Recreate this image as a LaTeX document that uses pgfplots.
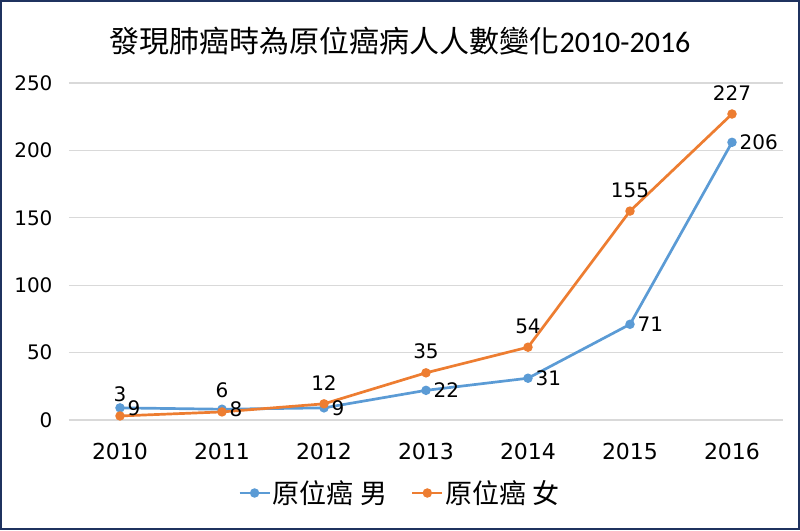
\documentclass[border=0pt]{standalone}
\usepackage{pgfplots}
\pgfplotsset{compat=1.18}
\usepackage{fontspec}
\setmainfont{DejaVu Sans}
\newfontfamily\cjk{Noto Sans CJK TC}
\newfontfamily\calfont{Carlito}
\definecolor{sblue}{HTML}{5B9BD5}
\definecolor{sorange}{HTML}{ED7D31}
\definecolor{frame}{RGB}{31,50,95}
\definecolor{gridc}{HTML}{D9D9D9}
\pgfplotstableread{
x male female
0 9 3
1 8 6
2 9 12
3 22 35
4 31 54
5 71 155
6 206 227
}\datatable
\begin{document}
\begin{tikzpicture}
\begin{axis}[
  name=ax,
  scale only axis, width=714pt, height=337pt,
  xmin=-0.5, xmax=6.5, ymin=0, ymax=250,
  xtick={0,...,6}, xticklabels={2010,2011,2012,2013,2014,2015,2016},
  ytick={0,50,...,250},
  ymajorgrids, grid style={gridc, line width=1.2pt},
  axis line style={draw=none}, major tick style={draw=none},
  /pgf/number format/assume math mode=true,
  xticklabel style={font=\fontsize{22}{26}\selectfont, yshift=-20pt},
  yticklabel style={font=\fontsize{20}{24}\selectfont, xshift=-13pt},
  clip=false,
  legend style={at={(0.4636,-0.2166)}, anchor=center, draw=none, fill=none,
    legend columns=2, font=\fontsize{27}{30}\selectfont\cjk,
    /tikz/every even column/.append style={column sep=22pt}},
  legend image code/.code={\draw[mark repeat=2,mark phase=2,#1] plot coordinates {(0pt,0pt) (15pt,0pt) (30pt,0pt)};},
  nodes near coords, 
  every node near coord/.append style={font=\fontsize{20}{24}\selectfont, black},
]
\addplot[sblue, line width=2.7pt, mark=*, mark size=3.3pt, mark options={solid},
  every node near coord/.append style={anchor=west, xshift=3pt}]
  table[x=x, y=male] {\datatable};
\addlegendentry{原位癌 男}
\addplot[sorange, line width=2.7pt, mark=*, mark size=3.3pt, mark options={solid},
  every node near coord/.append style={anchor=south, yshift=9pt}]
  table[x=x, y=female] {\datatable};
\addlegendentry{原位癌 女}
\end{axis}
\begin{scope}[shift={(ax.south west)}, x=1pt, y=1pt]
\draw[frame, line width=2.5pt] (-67.75,-108.75) rectangle (729.75,418.75);
\node at (331,379) {\fontsize{30}{36}\selectfont\cjk 發現肺癌時為原位癌病人人數變化\calfont 2010-2016};
\end{scope}
\end{tikzpicture}
\end{document}
